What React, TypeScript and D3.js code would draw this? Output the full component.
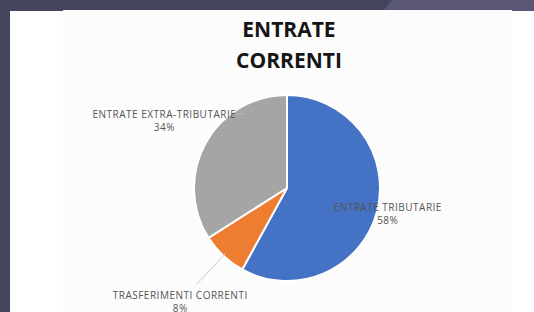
import React, { useEffect, useRef } from 'react';
import * as d3 from 'd3';

// chart data
const titleLines = ['ENTRATE', 'CORRENTI'];
const categories = ['ENTRATE TRIBUTARIE', 'TRASFERIMENTI CORRENTI', 'ENTRATE EXTRA-TRIBUTARIE'];
const values = [58, 8, 34];
const percentLabels = ['58%', '8%', '34%'];
const sliceColors = ['#4472c4', '#ed7d31', '#a5a5a5'];

// label placement (distance from the centre along each slice's mid angle)
const labelRadius = [104, 156, 140];

const W = 534;
const H = 312;

const App = () => {
    const svgRef = useRef<SVGSVGElement>(null);

    useEffect(() => {
        const svg = d3.select(svgRef.current);
        svg.selectAll('*').remove();

        // slide background
        svg.append('rect').attr('width', W).attr('height', H).attr('fill', '#ffffff');
        svg.append('rect').attr('x', 63).attr('y', 10).attr('width', 449).attr('height', H - 10).attr('fill', '#fcfcfc');
        svg.append('rect').attr('width', W).attr('height', 10).attr('fill', '#45445f');
        svg.append('rect').attr('x', 0).attr('y', 0).attr('width', 10).attr('height', H).attr('fill', '#45445f');
        svg.append('rect').attr('x', 0).attr('y', 10).attr('width', 63).attr('height', 1).attr('fill', '#45445f');
        svg.append('path').attr('d', 'M392,0 L534,0 L534,11 L512,11 L512,10 L384,10 Z').attr('fill', '#5a5876');

        // title
        const title = svg.append('text')
            .attr('text-anchor', 'middle')
            .attr('font-family', '"Open Sans", sans-serif')
            .attr('font-weight', 700)
            .attr('font-size', 21)
            .attr('fill', '#151515');
        titleLines.forEach((t, i) => {
            title.append('tspan').attr('x', 289).attr('y', 37 + i * 31).text(t);
        });

        const cx = 287, cy = 188, r = 93;
        const pie = d3.pie<number>().sort(null).value(d => d);
        const arcs = pie(values);
        const arc = d3.arc<d3.PieArcDatum<number>>().innerRadius(0).outerRadius(r);

        const g = svg.append('g').attr('transform', `translate(${cx},${cy})`);
        g.selectAll('path.slice')
            .data(arcs)
            .join('path')
            .attr('class', 'slice')
            .attr('d', arc)
            .attr('fill', (d, i) => sliceColors[i])
            .attr('stroke', '#ffffff')
            .attr('stroke-width', 2)
            .attr('stroke-linejoin', 'round');

        const mid = (d: d3.PieArcDatum<number>) => (d.startAngle + d.endAngle) / 2;
        const polar = (a: number, rad: number): [number, number] => [Math.sin(a) * rad, -Math.cos(a) * rad];

        const labels = g.selectAll('g.lbl')
            .data(arcs)
            .join('g')
            .attr('class', 'lbl')
            .attr('transform', (d, i) => {
                const [x, y] = polar(mid(d), labelRadius[i]);
                return `translate(${x},${y})`;
            });

        const txt = labels.append('text')
            .attr('text-anchor', 'middle')
            .attr('font-family', '"Open Sans", sans-serif')
            .attr('font-size', 10)
            .attr('letter-spacing', 0.5)
            .attr('fill', '#555555');
        txt.append('tspan').attr('x', 0).attr('y', -3).text((d, i) => categories[i]);
        txt.append('tspan').attr('x', 0).attr('y', 10).text((d, i) => percentLabels[i]);

        // leader lines
        arcs.forEach((d, i) => {
            if (i === 1) {
                const a = mid(d);
                const [x1, y1] = polar(a, r - 3);
                const [x2, y2] = polar(a, 132);
                g.append('line')
                    .attr('x1', x1).attr('y1', y1).attr('x2', x2).attr('y2', y2)
                    .attr('stroke', '#c9c9c9').attr('stroke-width', 1);
            }
            if (i === 2) {
                const node = txt.nodes()[i] as SVGTextElement;
                const w = (node.firstChild as SVGTextContentElement).getComputedTextLength();
                const [lx, ly] = polar(mid(d), labelRadius[i]);
                g.append('line')
                    .attr('x1', lx + w / 2).attr('y1', ly - 6.5)
                    .attr('x2', lx + w / 2 + 7).attr('y2', ly - 6.5)
                    .attr('stroke', '#bdbdbd').attr('stroke-width', 1);
            }
        });
    }, []);

    return (
        <svg
            ref={svgRef}
            width={W}
            height={H}
            style={{ position: 'fixed', left: 0, top: 0, display: 'block' }}
        />
    );
};

export default App;
